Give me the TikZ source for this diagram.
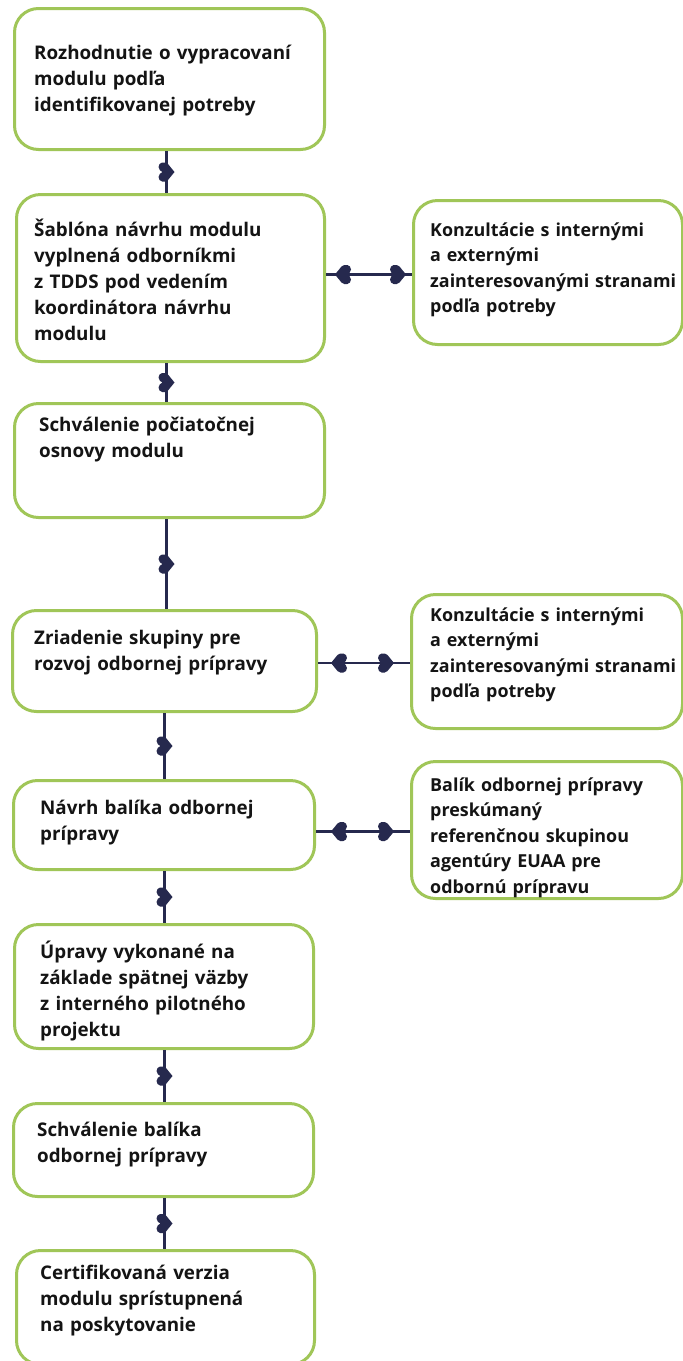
\documentclass[tikz,border=0pt]{standalone}
\usepackage{fontspec}
\setmainfont{Open Sans}[UprightFont=* Bold, Ligatures=NoCommon]
\usetikzlibrary{decorations.markings}
\definecolor{boxgreen}{RGB}{160,198,88}
\definecolor{navy}{RGB}{38,41,78}
\definecolor{ink}{RGB}{20,20,20}
\tikzset{
  box/.style={draw=boxgreen, line width=3pt, rounded corners=24pt, fill=white, anchor=north west, inner sep=0pt},
  txt/.style={anchor=base west, inner sep=0pt, align=left, text=ink, text width=320pt,
    font=\fontsize{18.8}{26}\selectfont},
  rtxt/.style={txt, font=\fontsize{17.9}{25.5}\selectfont},
  heart/.pic={\fill[navy] (8,0) -- (1.5,8) .. controls (-1.5,11) and (-8,10) .. (-8,5)
     .. controls (-8,2.5) and (-5.5,0.4) .. (-4,0) .. controls (-5.5,-0.4) and (-8,-2.5) .. (-8,-5)
     .. controls (-8,-10) and (-1.5,-11) .. (1.5,-8) -- cycle;},
  conn/.style={draw=navy, line width=2.4pt},
  vmid/.style={postaction={decorate}, decoration={markings, mark=at position 0.5 with {\pic{heart};}}},
  hpair/.style 2 args={postaction={decorate}, decoration={markings,
     mark=at position #1 with {\pic[rotate=180]{heart};},
     mark=at position #2 with {\pic{heart};}}}
}
\begin{document}
\begin{tikzpicture}[x=1pt,y=1pt]
\useasboundingbox (0,0) rectangle (683,-1361);
\clip (0,0) rectangle (683,-1361);
\fill[white] (0,0) rectangle (683,-1361);
% boxes
\node[box, minimum width=310pt, minimum height=141pt] (b1) at (13,-7) {};
\node[box, minimum width=308pt, minimum height=167pt] (b2) at (15,-193) {};
\node[box, minimum width=269pt, minimum height=144pt] (r1) at (412,-199) {};
\node[box, minimum width=310pt, minimum height=114pt] (b3) at (13,-402) {};
\node[box, minimum width=304pt, minimum height=101pt] (b4) at (11,-609) {};
\node[box, minimum width=271pt, minimum height=134pt] (r2) at (410,-593) {};
\node[box, minimum width=301pt, minimum height=89pt] (b5) at (12,-779) {};
\node[box, minimum width=271pt, minimum height=137pt] (r3) at (410,-760) {};
\node[box, minimum width=299pt, minimum height=124pt] (b6) at (13,-923) {};
\node[box, minimum width=300pt, minimum height=93pt] (b7) at (12,-1102) {};
\node[box, minimum width=298pt, minimum height=114pt] (b8) at (15,-1249) {};
% texts
\node[txt] (t1) at (34,-59) {Rozhodnutie o vypracovaní\\modulu podľa\\identifikovanej potreby};
\node[txt] (t2) at (34,-236) {Šablóna návrhu modulu\\vyplnená odborníkmi\\z TDDS pod vedením\\koordinátora návrhu\\modulu};
\node[rtxt] (t3) at (430,-236) {Konzultácie s internými\\a externými\\zainteresovanými stranami\\podľa potreby};
\node[txt] (t4) at (39,-431) {Schválenie počiatočnej\\osnovy modulu};
\node[txt] (t5) at (34,-644) {Zriadenie skupiny pre\\rozvoj odbornej prípravy};
\node[rtxt] (t6) at (430,-621) {Konzultácie s internými\\a externými\\zainteresovanými stranami\\podľa potreby};
\node[txt] (t7) at (40,-814) {Návrh balíka odbornej\\prípravy};
\node[rtxt] (t8) at (430,-791) {Balík odbornej prípravy\\preskúmaný\\referenčnou skupinou\\agentúry EUAA pre\\odbornú prípravu};
\node[txt] (t9) at (40,-958) {Úpravy vykonané na\\základe spätnej väzby\\z interného pilotného\\projektu};
\node[txt] (t10) at (37,-1136) {Schválenie balíka\\odbornej prípravy};
\node[txt] (t11) at (40,-1279) {Certifikovaná verzia\\modulu sprístupnená\\na poskytovanie};
% vertical connectors
\draw[conn, vmid] ([xshift=-3pt]b1.south) -- ([xshift=-3pt]b1.south |- b2.north);
\draw[conn, vmid] ([xshift=-4pt]b2.south) -- ([xshift=-4pt]b2.south |- b3.north);
\draw[conn, vmid] ([xshift=-3pt]b3.south) -- ([xshift=-3pt]b3.south |- b4.north);
\draw[conn, vmid] ([xshift=0pt]b4.south) -- ([xshift=0pt]b4.south |- b5.north);
\draw[conn, vmid] ([xshift=0.5pt]b5.south) -- ([xshift=0.5pt]b5.south |- b6.north);
\draw[conn, vmid] ([xshift=0.5pt]b6.south) -- ([xshift=0.5pt]b6.south |- b7.north);
\draw[conn, vmid] ([xshift=1pt]b7.south) -- ([xshift=1pt]b7.south |- b8.north);
% horizontal connectors
\draw[conn, hpair={17pt}{-14pt}] ([yshift=-2pt]b2.east |- r1.west) -- ([yshift=-2pt]r1.west);
\draw[conn, hpair={21pt}{-24pt}] ([yshift=-2pt]b4.east) -- ([yshift=-2pt]b4.east -| r2.west);
\draw[conn, hpair={23pt}{-24pt}] ([yshift=-1.5pt]b5.east |- r3.west) -- ([yshift=-1.5pt]r3.west);
\end{tikzpicture}
\end{document}
